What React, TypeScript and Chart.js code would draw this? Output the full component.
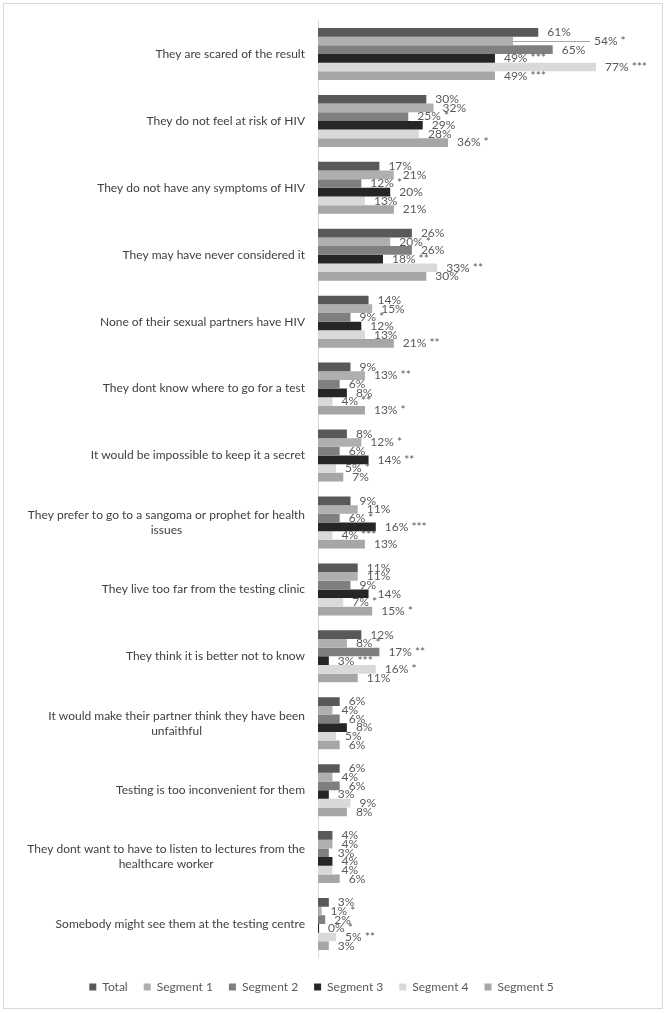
import React, { useEffect, useRef } from 'react';
import { Chart, registerables } from 'chart.js';

Chart.register(...registerables);

const categories: (string | string[])[] = [
  'They are scared of the result',
  'They do not feel at risk of HIV',
  'They do not have any symptoms of HIV',
  'They may have never considered it',
  'None of their sexual partners have HIV',
  'They dont know where to go for a test',
  'It would be impossible to keep it a secret',
  ['They prefer to go to a sangoma or prophet for health', 'issues'],
  'They live too far from the testing clinic',
  'They think it is better not to know',
  ['It would make their partner think they have been', 'unfaithful'],
  'Testing is too inconvenient for them',
  ['They dont want to have to listen to lectures from the', 'healthcare worker'],
  'Somebody might see them at the testing centre',
];

const seriesNames = ['Total', 'Segment 1', 'Segment 2', 'Segment 3', 'Segment 4', 'Segment 5'];
const seriesColors = ['#595959', '#afafaf', '#7f7f7f', '#262626', '#d9d9d9', '#a6a6a6'];

const totalValues = [61, 30, 17, 26, 14, 9, 8, 9, 11, 12, 6, 6, 4, 3];
const seg1Values = [54, 32, 21, 20, 15, 13, 12, 11, 11, 8, 4, 4, 4, 1];
const seg2Values = [65, 25, 12, 26, 9, 6, 6, 6, 9, 17, 6, 6, 3, 2];
const seg3Values = [49, 29, 20, 18, 12, 8, 14, 16, 14, 3, 8, 3, 4, 0.3];
const seg4Values = [77, 28, 13, 33, 13, 4, 5, 4, 7, 16, 5, 9, 4, 5];
const seg5Values = [49, 36, 21, 30, 21, 13, 7, 13, 15, 11, 6, 8, 6, 3];

const totalSig = ['', '', '', '', '', '', '', '', '', '', '', '', '', ''];
const seg1Sig = ['*', '', '', '*', '', '**', '*', '', '', '*', '', '', '', '*'];
const seg2Sig = ['', '*', '*', '', '*', '', '', '*', '', '**', '', '', '', ''];
const seg3Sig = ['***', '', '', '**', '', '', '**', '***', '', '***', '', '', '', '*'];
const seg4Sig = ['***', '', '', '**', '', '**', '*', '***', '*', '*', '', '', '', '**'];
const seg5Sig = ['***', '*', '', '', '**', '*', '', '', '*', '', '', '', '', ''];

const allValues = [totalValues, seg1Values, seg2Values, seg3Values, seg4Values, seg5Values];
const allSig = [totalSig, seg1Sig, seg2Sig, seg3Sig, seg4Sig, seg5Sig];

const FONT = 'Lato, "DejaVu Sans", sans-serif';
const LEADER = { dataset: 1, index: 0, shift: 72 };

const bgPlugin = {
  id: 'bgBorder',
  beforeDraw(chart: any) {
    const ctx = chart.ctx;
    ctx.save();
    ctx.fillStyle = '#ffffff';
    ctx.fillRect(0, 0, chart.width, chart.height);
    ctx.strokeStyle = '#d9d9d9';
    ctx.lineWidth = 1;
    ctx.strokeRect(3.5, 3.5, chart.width - 7, chart.height - 8);
    ctx.restore();
  },
};

const catLabelPlugin = {
  id: 'catLabels',
  afterDraw(chart: any) {
    const ctx = chart.ctx;
    const yScale = chart.scales.y;
    ctx.save();
    ctx.font = `12px ${FONT}`;
    ctx.fillStyle = '#404040';
    ctx.textAlign = 'center';
    ctx.textBaseline = 'middle';
    categories.forEach((lab, i) => {
      const lines = Array.isArray(lab) ? lab : [lab];
      const y = yScale.getPixelForValue(i);
      const maxW = Math.max(...lines.map((l) => ctx.measureText(l).width));
      const cx = yScale.right - 13 - maxW / 2;
      const lh = 15;
      lines.forEach((l, j) => {
        ctx.fillText(l, cx, y + (j - (lines.length - 1) / 2) * lh);
      });
    });
    ctx.restore();
  },
};

const dataLabelPlugin = {
  id: 'dataLabels',
  afterDatasetsDraw(chart: any) {
    const ctx = chart.ctx;
    ctx.save();
    ctx.font = `12px ${FONT}`;
    ctx.fillStyle = '#595959';
    ctx.textAlign = 'left';
    ctx.textBaseline = 'middle';
    chart.data.datasets.forEach((ds: any, di: number) => {
      const meta = chart.getDatasetMeta(di);
      meta.data.forEach((bar: any, i: number) => {
        const v = ds.data[i];
        const sig = allSig[di][i];
        const text = `${Math.round(v)}%` + (sig ? ` ${sig}` : '');
        let x = bar.x + 9;
        if (di === LEADER.dataset && i === LEADER.index) {
          x = bar.x + 9 + LEADER.shift;
          ctx.save();
          ctx.strokeStyle = '#a6a6a6';
          ctx.lineWidth = 1;
          ctx.beginPath();
          ctx.moveTo(bar.x, Math.round(bar.y) + 0.5);
          ctx.lineTo(x - 4, Math.round(bar.y) + 0.5);
          ctx.stroke();
          ctx.restore();
        }
        ctx.fillText(text, x, bar.y);
      });
    });
    ctx.restore();
  },
};

export default function App() {
  const ref = useRef<HTMLCanvasElement>(null);
  useEffect(() => {
    document.body.style.margin = '0';
    const chart = new Chart(ref.current as HTMLCanvasElement, {
      type: 'bar',
      data: {
        labels: categories as any,
        datasets: seriesNames.map((name, i) => ({
          label: name,
          data: allValues[i],
          backgroundColor: seriesColors[i],
          borderWidth: 0,
          categoryPercentage: 0.777,
          barPercentage: 1,
        })),
      },
      options: {
        indexAxis: 'y',
        animation: false,
        responsive: false,
        layout: { padding: { top: 20.5, right: 23, bottom: 10, left: 0 } },
        scales: {
          x: {
            min: 0,
            max: 90,
            grid: { display: false },
            border: { display: false },
            ticks: { display: false },
            afterFit: (scale: any) => {
              scale.height = 7.5;
            },
          },
          y: {
            grid: { display: false },
            border: { display: true, color: '#d9d9d9', width: 1 },
            ticks: { display: false },
            afterFit: (scale: any) => {
              scale.width = 318;
            },
          },
        },
        plugins: {
          legend: {
            position: 'bottom',
            labels: {
              boxWidth: 7,
              boxHeight: 7,
              padding: 16,
              color: '#595959',
              font: { family: FONT, size: 12 },
            },
          },
          tooltip: { enabled: false },
        },
      },
      plugins: [bgPlugin, catLabelPlugin, dataLabelPlugin],
    } as any);
    return () => chart.destroy();
  }, []);
  return <canvas ref={ref} width={666} height={1013} style={{ display: 'block' }} />;
}
